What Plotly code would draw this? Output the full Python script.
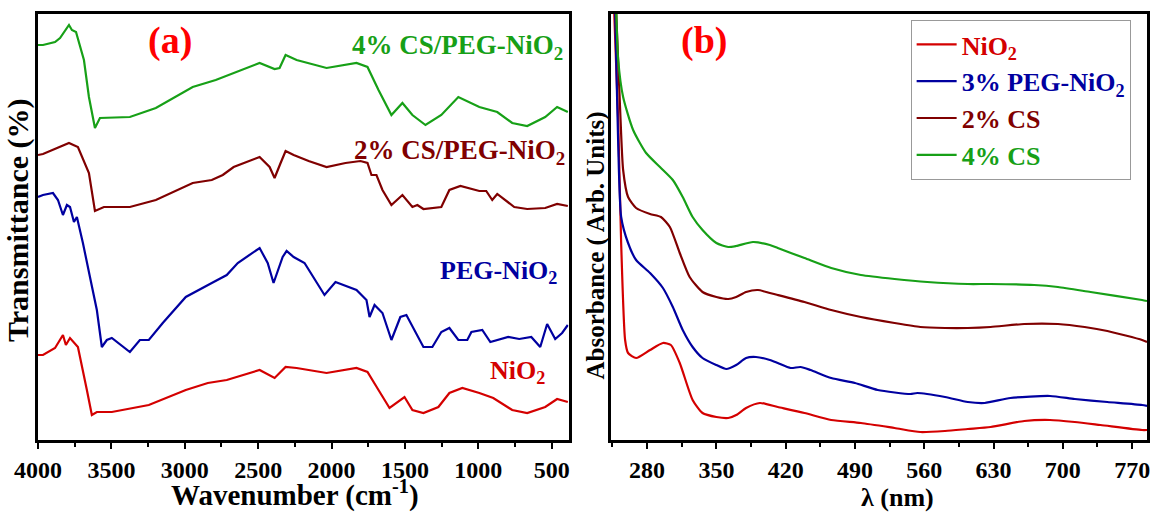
import plotly.graph_objects as go

# ---------------- Panel (a): FTIR ----------------
wn_cs4 = [4000, 3966, 3884, 3850, 3789, 3769, 3741, 3687, 3653, 3612, 3578, 3374, 3197, 2946, 2789, 2490,
          2388, 2354, 2313, 2238, 2034, 1830, 1755, 1680, 1592, 1517, 1449, 1360, 1252, 1136, 993, 871,
          769, 667, 544, 463, 390]
t_cs4 = [395, 395, 398, 402, 415, 410, 408, 380, 343, 312, 322, 323, 332, 353, 360, 377,
         371, 372, 385, 380, 372, 377, 373, 350, 325, 337, 325, 315, 325, 343, 333, 328,
         317, 314, 323, 333, 328]

wn_cs2 = [4000, 3966, 3789, 3728, 3653, 3612, 3551, 3374, 3197, 2946, 2816, 2741, 2667, 2490, 2422, 2388,
          2347, 2313, 2258, 2156, 2034, 1905, 1803, 1755, 1728, 1694, 1653, 1592, 1517, 1449, 1415, 1374,
          1252, 1197, 1122, 993, 946, 905, 871, 755, 667, 544, 463, 390]
t_cs2 = [285, 286, 297, 293, 267, 229, 233, 233, 240, 257, 260, 265, 273, 283, 273, 262,
         277, 289, 285, 279, 273, 277, 279, 277, 265, 265, 250, 235, 245, 233, 235, 231,
         233, 250, 254, 249, 249, 240, 246, 233, 231, 232, 236, 234]

wn_peg = [4000, 3966, 3898, 3864, 3830, 3803, 3782, 3755, 3735, 3694, 3646, 3599, 3565, 3531, 3497, 3374,
          3306, 3245, 3150, 2993, 2816, 2714, 2639, 2517, 2490, 2435, 2395, 2333, 2306, 2258, 2184, 2048,
          1973, 1830, 1762, 1741, 1707, 1653, 1592, 1531, 1490, 1374, 1313, 1252, 1197, 1136, 1075, 1047,
          973, 918, 871, 796, 721, 639, 578, 531, 476, 429, 390]
t_peg = [243, 245, 247, 240, 225, 235, 233, 218, 223, 197, 163, 130, 93, 100, 102, 88,
         100, 100, 117, 143, 157, 165, 177, 190, 192, 177, 157, 183, 189, 183, 177, 145,
         158, 150, 140, 123, 135, 127, 100, 123, 125, 93, 93, 108, 112, 100, 100, 108,
         110, 98, 100, 103, 101, 103, 93, 116, 101, 107, 115]

wn_nio = [4000, 3966, 3884, 3830, 3810, 3782, 3728, 3694, 3667, 3633, 3599, 3497, 3245, 2993, 2843, 2714,
          2490, 2388, 2313, 2238, 2034, 1830, 1755, 1680, 1605, 1503, 1449, 1374, 1272, 1197, 1109, 993,
          898, 769, 667, 544, 463, 390]
t_nio = [85, 85, 92, 105, 95, 102, 93, 67, 50, 25, 28, 28, 35, 50, 57, 60,
         70, 62, 73, 72, 67, 72, 68, 50, 32, 43, 30, 27, 33, 47, 52, 47,
         42, 30, 27, 33, 41, 38]

# ---------------- Panel (b): UV-Vis ----------------
lam_nio = [246.7, 250.8, 253.8, 257.8, 260.8, 268.9, 283, 296, 304, 313, 326, 336, 350, 362, 370, 380,
           394, 412, 439, 466, 496, 530, 556, 581, 604, 627, 661, 687, 712, 738, 780, 785]
a_nio = [430, 320, 197, 100, 87, 82, 90, 97, 95, 77, 40, 27, 23, 22, 25, 32,
         37, 33, 27, 20, 17, 12, 8, 9, 11, 13, 19, 20, 18, 15, 10, 10]

lam_peg = [247.7, 248.7, 250.8, 253.8, 260.8, 268.9, 283, 296, 306, 316, 326, 336, 350, 360, 370, 380,
           390, 404, 412, 425, 435, 445, 466, 490, 513, 546, 553, 581, 604, 621, 647, 687, 712, 745, 780, 785]
a_peg = [430, 387, 297, 223, 197, 180, 167, 152, 133, 110, 93, 82, 75, 71, 75, 82,
         83, 80, 77, 72, 73, 70, 62, 57, 50, 46, 47, 43, 38, 37, 42, 44, 41, 38, 35, 34]

lam_cs2 = [248.7, 252.8, 255.8, 260.8, 268.9, 283, 294, 303, 313, 323, 336, 350, 362, 370, 380, 392,
           404, 412, 439, 466, 496, 530, 556, 581, 604, 627, 661, 695, 722, 745, 780, 785]
a_cs2 = [430, 330, 270, 243, 232, 226, 223, 213, 187, 163, 148, 143, 141, 143, 148, 150,
         147, 145, 138, 130, 123, 117, 113, 112, 112, 113, 116, 116, 113, 109, 100, 98]

lam_cs4 = [248.7, 250.8, 255.8, 265.9, 279, 293, 306, 316, 326, 336, 350, 362, 370, 387, 404, 412,
           439, 466, 496, 530, 563, 604, 627, 671, 695, 728, 780, 785]
a_cs4 = [435, 380, 343, 310, 287, 273, 260, 243, 223, 210, 197, 193, 194, 198, 195, 192,
         182, 172, 165, 161, 158, 156, 156, 155, 153, 148, 140, 139]

C_GREEN = "#17a017"
C_DRED = "#800000"
C_BLUE = "#0000a0"
C_RED = "#d40000"

SERIF = "Liberation Serif"

fig = go.Figure()

# panel (a) traces
for wn, t, c in [(wn_cs4, t_cs4, C_GREEN), (wn_cs2, t_cs2, C_DRED), (wn_peg, t_peg, C_BLUE), (wn_nio, t_nio, C_RED)]:
    fig.add_trace(go.Scatter(x=wn, y=t, mode="lines", line=dict(color=c, width=2.2),
                             showlegend=False, xaxis="x", yaxis="y", hoverinfo="skip"))

# panel (b) traces
leg = [
    (lam_nio, a_nio, C_RED, "NiO<sub>2</sub>"),
    (lam_peg, a_peg, C_BLUE, "3% PEG-NiO<sub>2</sub>"),
    (lam_cs2, a_cs2, C_DRED, "2% CS"),
    (lam_cs4, a_cs4, C_GREEN, "4% CS"),
]
for lam, a, c, name in leg:
    fig.add_trace(go.Scatter(x=lam, y=a, mode="lines", line=dict(color=c, width=2.2, shape="spline", smoothing=0.6),
                             name=f"<span style='color:{c}'>{name}</span>",
                             xaxis="x2", yaxis="y2", hoverinfo="skip"))

tickfont = dict(family=SERIF, size=24, color="black", weight="bold")
axis_common = dict(showline=True, linecolor="black", linewidth=3, mirror=True, ticks="outside",
                   ticklen=6, tickwidth=2, tickcolor="black", showgrid=False, zeroline=False, tickfont=tickfont)

L = 38
R = 6
W = 1156
PW = W - L - R
xa_end = (570 - L) / PW
xb_start = (613 - L) / PW

fig.update_layout(
    width=1156, height=515,
    margin=dict(l=L, r=R, t=14, b=75),
    paper_bgcolor="white", plot_bgcolor="white",
    xaxis=dict(domain=[0, xa_end], range=[4000, 385], tickvals=[4000, 3500, 3000, 2500, 2000, 1500, 1000, 500],
               minor=dict(dtick=250, ticks="outside", ticklen=4, tickwidth=2, tickcolor="black"), **axis_common),
    yaxis=dict(domain=[0, 1], range=[0, 426], showticklabels=False, ticks="",
               **{k: v for k, v in axis_common.items() if k not in ("ticks",)}),
    xaxis2=dict(domain=[xb_start, 1], range=[244, 785], tickvals=[280, 350, 420, 490, 560, 630, 700, 770],
                minor=dict(tickvals=[245, 315, 385, 455, 525, 595, 665, 735], ticks="outside", ticklen=4, tickwidth=2,
                           tickcolor="black"),
                anchor="y2", **axis_common),
    yaxis2=dict(domain=[0, 1], range=[0, 426], showticklabels=False, ticks="", anchor="x2",
                **{k: v for k, v in axis_common.items() if k not in ("ticks",)}),
    legend=dict(x=(913 - L) / PW, y=(440 - 20) / 426, xanchor="left", yanchor="top",
                bgcolor="white", bordercolor="#999999", borderwidth=1,
                font=dict(family=SERIF, size=26, color="black", weight="bold"),
                itemwidth=40, tracegroupgap=0),
)

def px(xp):
    return (xp - L) / PW

def py(yp):
    return (440 - yp) / 426

ann = []
def add(text, x, y, size, color, xanchor="center", angle=0, yanchor="middle"):
    ann.append(dict(text=text, x=px(x), y=py(y), xref="paper", yref="paper", showarrow=False,
                    xanchor=xanchor, yanchor=yanchor, textangle=angle,
                    font=dict(family=SERIF, size=size, color=color, weight="bold")))

add("(a)", 170, 40, 38, "#ff0000")
add("(b)", 706, 40, 38, "#ff0000")
add("4% CS/PEG-NiO<sub>2</sub>", 566, 47, 27, C_GREEN, xanchor="right")
add("2% CS/PEG-NiO<sub>2</sub>", 568, 152, 27, C_DRED, xanchor="right")
add("PEG-NiO<sub>2</sub>", 560, 272, 26, C_BLUE, xanchor="right")
add("NiO<sub>2</sub>", 548, 372, 26, C_RED, xanchor="right")
add("Wavenumber (cm<sup>-1</sup>)", 296, 514, 29, "black", yanchor="bottom")
add("λ (nm)", 900, 514, 26, "black", yanchor="bottom")
add("Transmittance (%)", 18, 220, 30, "black", angle=-90)
add("Absorbance ( Arb. Units)", 598, 245, 25, "black", angle=-90)
fig.update_layout(annotations=ann)

fig.write_html("out.html")
